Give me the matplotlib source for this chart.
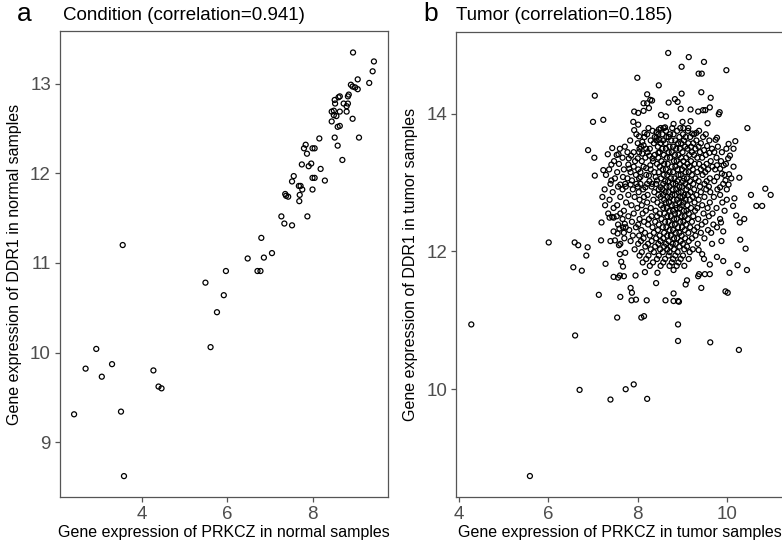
import matplotlib
matplotlib.use("Agg")
import matplotlib.pyplot as plt
import numpy as np

plt.rcParams['font.family'] = ['Liberation Sans', 'DejaVu Sans']

# panel a: normal samples
normal_x = [8.95, 9.44, 9.41, 9.06, 9.33, 8.90, 8.94, 9.00, 9.06, 8.64, 8.61, 8.85, 8.83,
            8.52, 8.73, 8.53, 8.83, 8.80, 8.45, 8.50, 8.64, 8.80, 8.50, 8.56, 8.94, 8.45,
            8.64, 8.59, 8.52, 9.09, 8.59, 8.70, 8.16, 7.84, 7.80, 7.87, 8.00, 8.05, 7.97,
            7.91, 7.75, 8.19, 7.56, 7.52, 7.68, 7.72, 7.76, 8.00, 8.05, 8.29, 7.36, 7.38,
            7.43, 7.70, 7.69, 8.00, 7.88, 7.27, 7.34, 7.52, 6.80, 3.55, 7.05, 6.86, 6.48,
            5.97, 6.71, 6.78, 5.49, 5.92, 5.76, 5.61, 2.93, 2.68, 3.30, 3.06, 4.27, 4.39,
            4.46, 2.41, 3.51, 3.58]
normal_y = [13.35, 13.25, 13.14, 13.05, 13.01, 12.99, 12.97, 12.96, 12.94, 12.86, 12.85,
            12.88, 12.86, 12.82, 12.78, 12.78, 12.78, 12.75, 12.69, 12.70, 12.69, 12.69,
            12.65, 12.64, 12.61, 12.58, 12.53, 12.52, 12.40, 12.40, 12.31, 12.15, 12.39,
            12.32, 12.28, 12.22, 12.28, 12.28, 12.11, 12.08, 12.10, 12.05, 11.97, 11.91,
            11.86, 11.86, 11.82, 11.95, 11.95, 11.92, 11.77, 11.75, 11.74, 11.76, 11.69,
            11.82, 11.52, 11.52, 11.44, 11.42, 11.28, 11.20, 11.11, 11.06, 11.05, 10.91,
            10.91, 10.91, 10.78, 10.64, 10.45, 10.06, 10.04, 9.82, 9.87, 9.73, 9.80, 9.62,
            9.60, 9.31, 9.34, 8.62]

# panel b: tumor samples, scattered points read one by one
tumor_edge = [
    (8.68, 14.88), (9.14, 14.82), (8.98, 14.68), (9.48, 14.75), (9.36, 14.58), (9.43, 14.58),
    (9.98, 14.63), (7.99, 14.52), (8.47, 14.41), (7.04, 14.26), (8.21, 14.28), (8.28, 14.20),
    (8.21, 14.15), (8.13, 14.15), (8.25, 14.08), (8.13, 14.04), (8.01, 14.01), (7.92, 14.03),
    (8.98, 14.29), (9.42, 14.31), (9.63, 14.23), (8.32, 14.19), (8.69, 14.16), (8.83, 14.21),
    (8.89, 14.17), (8.96, 14.07), (9.18, 14.06), (9.35, 14.03), (9.46, 14.05), (9.51, 14.05),
    (9.61, 14.09), (9.83, 14.02), (9.81, 13.99), (8.52, 13.98), (8.63, 13.96), (7.00, 13.88),
    (7.23, 13.91), (7.90, 13.88), (8.01, 13.84), (9.00, 13.88), (9.18, 13.89), (9.56, 13.86),
    (8.80, 13.85), (10.45, 13.79), (9.13, 13.79), (8.61, 13.80), (8.47, 13.77), (9.31, 13.72),
    (9.22, 13.71), (9.77, 13.65), (9.74, 13.62), (10.03, 13.56), (10.18, 13.60), (9.98, 13.49),
    (10.14, 13.49), (10.06, 13.39), (10.02, 13.35), (10.14, 13.23), (9.92, 13.25), (10.04, 13.12),
    (10.27, 13.07), (10.85, 12.91), (9.55, 13.53), (9.60, 13.43), (9.48, 13.47), (9.77, 13.25),
    (9.84, 13.20), (9.88, 13.13), (9.77, 13.08), (9.96, 13.03), (10.03, 12.97), (9.84, 12.93),
    (7.92, 13.76), (8.03, 13.67), (8.15, 13.72), (8.10, 13.59), (8.13, 13.54), (8.04, 13.49),
    (8.19, 13.49), (8.42, 13.65), (8.48, 13.62), (8.42, 13.73), (6.89, 13.47), (7.43, 13.50),
    (7.33, 13.41), (7.57, 13.41), (7.03, 13.36), (7.41, 13.26), (7.23, 13.18), (7.04, 13.10),
    (7.41, 13.03), (7.80, 13.35), (7.85, 13.39), (7.79, 13.26), (7.81, 13.20), (7.91, 13.44),
    (8.00, 13.35), (8.10, 13.42), (8.26, 13.39), (8.33, 13.35), (8.46, 13.43), (8.28, 13.25),
    (8.19, 13.21), (8.37, 13.15), (8.40, 13.08), (8.25, 13.10), (8.06, 13.08), (7.87, 13.03),
    (7.67, 13.08), (7.72, 12.98), (7.61, 12.97), (7.84, 12.97), (8.06, 12.98), (8.17, 12.93),
    (8.32, 12.98), (8.43, 13.03), (8.51, 12.93),
    (10.97, 12.82), (10.53, 12.82), (10.65, 12.66), (10.78, 12.66), (10.16, 12.77), (10.13, 12.66),
    (10.20, 12.52), (10.28, 12.42), (10.38, 12.47), (10.29, 12.17), (10.41, 12.04), (10.23, 11.80),
    (10.44, 11.73), (9.86, 12.42), (9.91, 12.29), (9.77, 12.35), (9.87, 12.15), (9.66, 12.11),
    (9.77, 11.92), (9.91, 11.86), (10.05, 11.69), (9.96, 11.42), (10.01, 11.40), (9.42, 11.47),
    (9.61, 11.67), (9.50, 11.67), (9.37, 11.67), (9.35, 11.64), (9.10, 11.58), (9.07, 11.52),
    (8.80, 11.39), (8.90, 11.28), (8.80, 11.28), (8.62, 11.29), (8.90, 10.94), (8.80, 11.73),
    (8.44, 11.69), (8.41, 11.54), (9.48, 11.89), (9.61, 11.81), (9.44, 11.96), (9.36, 12.02),
    (6.01, 12.13), (6.59, 12.13), (6.67, 12.09), (6.88, 12.06), (6.85, 11.94), (6.56, 11.77),
    (6.75, 11.72), (7.19, 12.42), (7.18, 12.16), (7.28, 11.82), (7.13, 11.37), (7.54, 11.04),
    (7.61, 11.34), (7.46, 11.63), (7.56, 11.62), (7.60, 11.65), (7.69, 11.64), (7.84, 11.47),
    (7.87, 11.40), (7.86, 11.29), (7.96, 11.30), (8.20, 11.29), (7.95, 11.65), (8.16, 11.70),
    (8.08, 11.04), (8.14, 11.06), (7.67, 11.78), (7.60, 11.96), (7.72, 11.98), (7.63, 11.85),
    (7.39, 12.15), (7.49, 12.16), (7.58, 12.09), (7.61, 12.11), (7.70, 12.19), (7.46, 12.29),
    (7.59, 12.33), (7.55, 12.26), (7.67, 12.35), (7.71, 12.40), (7.46, 12.49), (7.37, 12.49),
    (7.43, 12.50),
    (4.28, 10.94), (6.60, 10.78), (6.70, 9.99), (7.39, 9.85), (7.73, 10.00), (7.91, 10.07),
    (8.21, 9.86), (5.59, 8.74), (8.90, 10.70), (9.62, 10.68), (10.26, 10.57), (8.92, 11.27),
]

# dense core of panel b, estimated row by row (DDR1 level, PRKCZ values)
tumor_core = [
    (13.79, [8.24, 8.51, 8.58, 8.77, 8.95, 9.02]),
    (13.75, [8.33, 8.63, 8.88, 9.12, 9.37]),
    (13.70, [7.97, 8.21, 8.46, 8.55, 8.72, 8.80, 9.01, 9.26, 9.52]),
    (13.66, [8.15, 8.38, 8.64, 8.69, 8.93, 9.07, 9.17, 9.46]),
    (13.61, [7.83, 8.29, 8.42, 8.57, 8.75, 8.84, 9.03, 9.31, 9.60]),
    (13.57, [8.00, 8.36, 8.51, 8.62, 8.90, 8.97, 9.13, 9.24, 9.41]),
    (13.52, [7.71, 8.07, 8.45, 8.71, 8.79, 9.06, 9.19, 9.36, 9.79]),
    (13.49, [7.60, 8.27, 8.55, 8.63, 8.86, 8.94, 9.11, 9.29, 9.66]),
    (13.44, [7.77, 8.03, 8.22, 8.49, 8.69, 8.76, 9.00, 9.21, 9.39, 9.71, 9.88]),
    (13.40, [7.53, 8.38, 8.58, 8.83, 8.91, 9.15, 9.26, 9.52]),
    (13.36, [7.66, 8.17, 8.46, 8.65, 8.72, 8.97, 9.08, 9.33, 9.44, 9.76]),
    (13.31, [7.47, 7.94, 8.09, 8.34, 8.53, 8.81, 8.87, 9.02, 9.19, 9.63, 9.86]),
    (13.27, [7.58, 8.43, 8.59, 8.67, 8.94, 9.11, 9.27, 9.37, 9.54, 9.97]),
    (13.23, [7.91, 8.13, 8.49, 8.76, 8.84, 9.04, 9.16, 9.47, 9.67]),
    (13.19, [7.36, 7.69, 8.01, 8.29, 8.56, 8.63, 8.89, 8.99, 9.23, 9.41, 9.57, 9.73]),
    (13.15, [7.54, 7.84, 8.06, 8.47, 8.71, 8.79, 9.07, 9.14, 9.33, 9.51]),
    (13.11, [7.29, 7.96, 8.19, 8.58, 8.66, 8.91, 8.96, 9.21, 9.45, 9.94]),
    (13.06, [7.49, 7.77, 8.03, 8.52, 8.74, 8.82, 9.03, 9.10, 9.29, 9.61, 10.09]),
    (13.02, [8.26, 8.61, 8.68, 8.88, 9.01, 9.17, 9.36, 9.54, 9.71]),
    (12.98, [7.39, 7.97, 8.21, 8.41, 8.57, 8.79, 8.85, 9.06, 9.24, 9.49, 9.91]),
    (12.94, [7.56, 7.73, 8.00, 8.31, 8.64, 8.71, 8.93, 8.99, 9.13, 9.39, 9.59]),
    (12.90, [7.26, 7.66, 7.89, 8.12, 8.47, 8.55, 8.78, 8.86, 9.09, 9.26, 9.53, 9.78, 9.99]),
    (12.86, [7.44, 8.02, 8.37, 8.62, 8.69, 8.91, 8.97, 9.18, 9.41, 9.62]),
    (12.82, [7.79, 8.22, 8.46, 8.57, 8.77, 8.83, 9.04, 9.12, 9.31, 9.84]),
    (12.79, [7.21, 7.61, 7.93, 8.14, 8.51, 8.66, 8.73, 8.95, 9.00, 9.23, 9.49, 9.70]),
    (12.75, [7.37, 8.04, 8.35, 8.59, 8.80, 8.88, 9.07, 9.16, 9.36, 9.99]),
    (12.71, [7.74, 8.21, 8.44, 8.63, 8.70, 8.93, 9.02, 9.27, 9.61, 9.89]),
    (12.67, [7.27, 7.54, 7.86, 8.09, 8.52, 8.76, 8.84, 8.99, 9.11, 9.44]),
    (12.63, [7.46, 7.99, 8.29, 8.57, 8.65, 8.87, 8.94, 9.19, 9.33, 9.56, 9.76]),
    (12.59, [7.69, 8.18, 8.40, 8.71, 8.79, 9.03, 9.09, 9.28, 9.94]),
    (12.55, [7.34, 7.61, 7.91, 8.11, 8.49, 8.60, 8.83, 8.91, 9.14, 9.47, 9.67]),
    (12.51, [7.53, 7.79, 8.31, 8.43, 8.66, 8.74, 8.98, 9.05, 9.24, 9.59]),
    (12.47, [7.66, 8.04, 8.25, 8.53, 8.81, 8.87, 9.12, 9.35, 9.84]),
    (12.43, [7.87, 8.14, 8.39, 8.61, 8.69, 8.95, 9.02, 9.21, 9.51]),
    (12.39, [7.56, 8.01, 8.23, 8.47, 8.76, 8.83, 9.08, 9.43, 9.69]),
    (12.35, [7.73, 7.96, 8.33, 8.56, 8.64, 8.90, 8.99, 9.17, 9.33]),
    (12.31, [7.81, 8.08, 8.45, 8.71, 8.79, 9.05, 9.26, 9.57]),
    (12.27, [7.69, 8.16, 8.36, 8.59, 8.85, 8.93, 9.13, 9.41, 9.64]),
    (12.23, [7.89, 8.03, 8.27, 8.49, 8.66, 8.74, 8.98, 9.29]),
    (12.19, [8.13, 8.41, 8.57, 8.81, 8.88, 9.06, 9.21, 9.49]),
    (12.15, [7.84, 8.07, 8.31, 8.51, 8.69, 8.96, 9.14]),
    (12.11, [8.01, 8.23, 8.46, 8.63, 8.78, 8.85, 9.01, 9.34]),
    (12.07, [8.17, 8.39, 8.59, 8.73, 8.93, 9.10]),
    (12.03, [7.93, 8.29, 8.50, 8.66, 8.81, 9.04, 9.23]),
    (11.99, [8.09, 8.36, 8.56, 8.71, 8.89, 9.16]),
    (11.94, [8.04, 8.24, 8.47, 8.69, 8.84, 9.01]),
    (11.89, [8.19, 8.43, 8.61, 8.79, 8.96, 9.14]),
    (11.84, [8.11, 8.34, 8.57, 8.76, 8.91]),
    (11.79, [8.27, 8.51, 8.71, 8.87, 9.04]),
]

tumor_x = [p[0] for p in tumor_edge]
tumor_y = [p[1] for p in tumor_edge]
for yv, xs in tumor_core:
    tumor_x += xs
    tumor_y += [yv] * len(xs)

W, H = 782, 546
fig = plt.figure(figsize=(W / 100, H / 100), dpi=100)

def style(ax):
    for s in ax.spines.values():
        s.set_color('#555555')
        s.set_linewidth(0.9)
    ax.tick_params(length=3.5, width=0.9, color='#555555', labelcolor='#4d4d4d',
                   labelsize=13.5, pad=3)

# axes boxes placed in pixel units
ax1 = fig.add_axes([60 / W, 1 - 496.7 / H, 328 / W, 465.7 / H])
ax2 = fig.add_axes([456.3 / W, 1 - 496.7 / H, 329.8 / W, 464.4 / H])

pt = dict(s=13, facecolors='none', edgecolors='black', linewidths=0.9)

ax1.scatter(normal_x, normal_y, **pt)
ax1.set_xlim(2.08, 9.77)
ax1.set_ylim(8.39, 13.59)
ax1.set_xticks([4, 6, 8])
ax1.set_yticks([9, 10, 11, 12, 13])
style(ax1)

ax2.scatter(tumor_x, tumor_y, **pt)
ax2.set_xlim(3.945, 11.315)
ax2.set_ylim(8.44, 15.18)
ax2.set_xticks([4, 6, 8, 10])
ax2.set_yticks([10, 12, 14])
style(ax2)

lab = dict(fontsize=11.5, color='black', va='center', ha='center')
fig.text(224 / W, 1 - 533 / H, 'Gene expression of PRKCZ in normal samples', **lab)
fig.text(620 / W, 1 - 533 / H, 'Gene expression of PRKCZ in tumor samples', **lab)
fig.text(15 / W, 1 - 264 / H, 'Gene expression of DDR1 in normal samples', rotation=90, **lab)
fig.text(410.5 / W, 1 - 264 / H, 'Gene expression of DDR1 in tumor samples', rotation=90, **lab)

fig.text(17 / W, 1 - 21 / H, 'a', fontsize=19, va='baseline', ha='left')
fig.text(63 / W, 1 - 20 / H, 'Condition (correlation=0.941)', fontsize=13.5, va='baseline', ha='left')
fig.text(423 / W, 1 - 21 / H, 'b', fontsize=19, va='baseline', ha='left')
fig.text(456 / W, 1 - 20 / H, 'Tumor (correlation=0.185)', fontsize=13.5, va='baseline', ha='left')

fig.savefig('out.png', dpi=100)
